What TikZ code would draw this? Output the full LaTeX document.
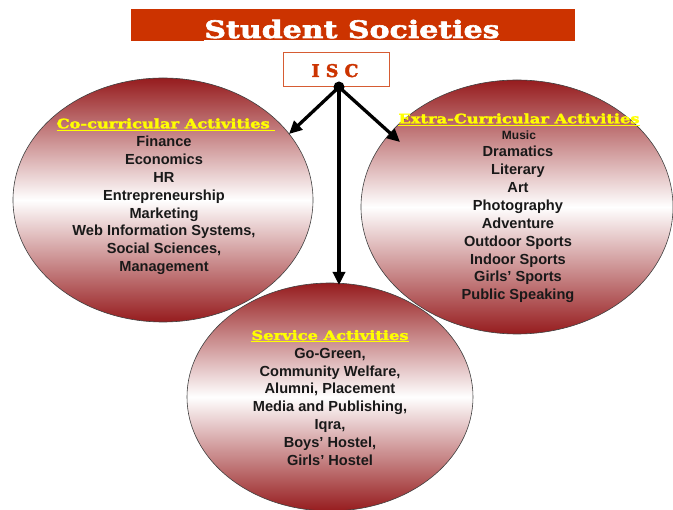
\documentclass[tikz,border=0pt]{standalone}
\usepackage{fontspec}
\setmainfont{Liberation Sans}
\newfontfamily\slabfont[BoldFont={DejaVu Serif Bold},BoldFeatures={FakeBold=2}]{DejaVu Serif}
\newfontfamily\headfont[FakeStretch=1.25,BoldFont={DejaVu Serif Bold},BoldFeatures={FakeBold=2.5,FakeStretch=1.25}]{DejaVu Serif}
\usetikzlibrary{shapes.geometric,arrows.meta}
\definecolor{titlebg}{RGB}{204,51,0}
\definecolor{ovalred}{RGB}{150,28,30}
\definecolor{headyellow}{RGB}{255,255,0}
\tikzset{
  oval/.style={ellipse, draw=black!75, line width=0.6pt, inner sep=0pt,
    top color=ovalred, bottom color=ovalred, middle color=white},
  bodytext/.style={font=\bfseries\fontsize{14.6}{16}\selectfont, anchor=base, inner sep=0pt, text=black!90},
  headtext/.style={font=\headfont\bfseries\fontsize{13}{14}\selectfont, anchor=base, inner sep=0pt, text=headyellow},
  link/.style={line width=3.3pt, -{Triangle[length=13pt,width=12pt]}}
}
\newcommand{\ulhead}[1]{\underline{#1}}
\begin{document}
\begin{tikzpicture}[x=1pt,y=-1pt]
\useasboundingbox (0,0) rectangle (673,510);
% title
\node[fill=titlebg, minimum width=444pt, minimum height=32pt, inner sep=0pt] (titlebar) at (353,25) {};
\node[font=\headfont\bfseries\fontsize{24}{26}\selectfont, text=white, inner sep=0pt, anchor=base] (title) at (352,38) {\underline{Student Societies}};
% ovals
\node[oval, minimum width=300pt, minimum height=244pt] (left) at (163,200) {};
\node[oval, minimum width=312pt, minimum height=254pt] (right) at (517,207) {};
\node[oval, minimum width=286pt, minimum height=228pt] (bottom) at (330,397) {};
% ISC box
\node[draw=titlebg!80, fill=white, line width=0.8pt, minimum width=106pt, minimum height=34pt, inner sep=0pt] (isc) at (336,69.5) {};
\node[font=\slabfont\bfseries\fontsize{17.5}{20}\selectfont, text=titlebg, inner sep=0pt, anchor=base] (isctext) at (335,77) {I S C};
% arrows
\coordinate (hub) at (339,87);
\coordinate (tipl) at (289,134);
\coordinate (tipr) at (400,142);
\coordinate (tipd) at (339,285);
\draw[link] (hub) -- (tipl);
\draw[link] (hub) -- (tipr);
\draw[link] (hub) -- (tipd);
\fill (hub) circle (5.5pt);
% headings
\node[headtext] (hl) at (166,128.3) {\ulhead{Co-curricular Activities\ }};
\node[headtext] (hr) at (519,123.3) {\ulhead{Extra-Curricular Activities}};
\node[headtext] (hb) at (330,340) {\ulhead{Service Activities}};
% left items
\foreach \t [count=\i] in {Finance,Economics,HR,Entrepreneurship,Marketing,{Web Information Systems,},{Social  Sciences,},Management}
  \node[bodytext] (la\i) at (164,{146.7+(\i-1)*17.85}) {\t};
% right items
\node[bodytext, font=\bfseries\fontsize{12}{14}\selectfont] (ra1) at (519,140) {Music};
\foreach \t [count=\i from 2] in {Dramatics,Literary,Art,Photography,Adventure,Outdoor Sports,Indoor Sports,{Girls’ Sports},{Public Speaking}}
  \node[bodytext] (ra\i) at (518,{156.7+(\i-2)*17.9}) {\t};
% bottom items
\foreach \t [count=\i] in {{Go-Green,},{Community Welfare,},{Alumni, Placement},{Media and Publishing,},{Iqra,},{Boys’ Hostel,},{Girls’ Hostel}}
  \node[bodytext] (ba\i) at (330,{358.3+(\i-1)*17.8}) {\t};
\end{tikzpicture}
\end{document}
